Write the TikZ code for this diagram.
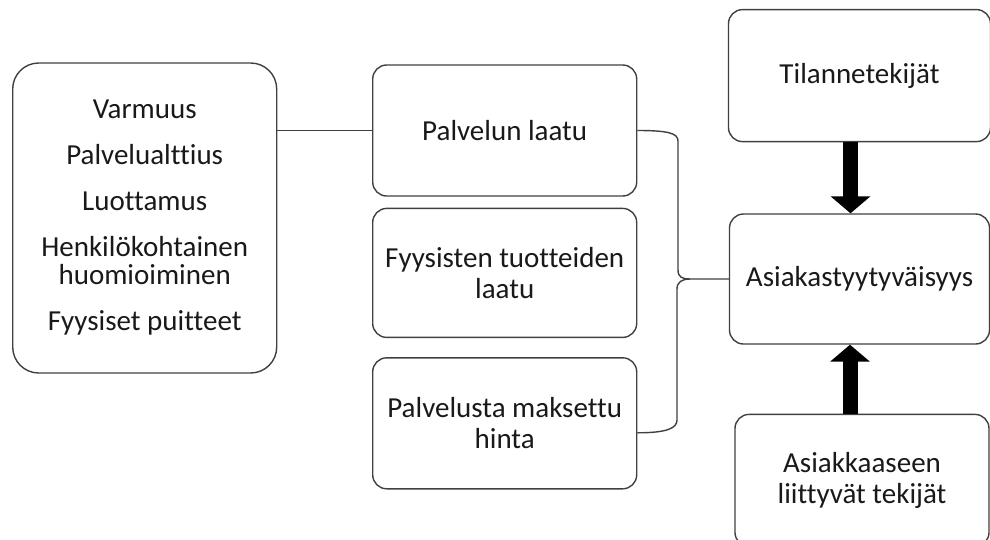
\documentclass[tikz,border=0pt]{standalone}
\usepackage{fontspec}
\setmainfont[Ligatures=NoCommon]{Carlito}
\usetikzlibrary{positioning,arrows.meta}

\tikzset{
  box/.style={draw=black!75, line width=1.4pt, rounded corners=14pt, align=center,
    inner sep=0pt, font=\fontsize{29}{31}\selectfont, text=black!90},
  midbox/.style={box, minimum width=264pt, minimum height=131pt},
  rightbox/.style={box, minimum width=260pt, minimum height=130pt},
  link/.style={draw=black!75, line width=1.4pt},
  bigarrow/.style={line width=15pt, -{Triangle[width=39pt,length=17pt]}},
}

\begin{document}
\begin{tikzpicture}[x=1pt,y=1pt]
    \useasboundingbox (0,0) rectangle (990,-539);

    % middle column
    \node[midbox] (quality) at (504.7,-130.5) {Palvelun laatu};
    \node[midbox, minimum height=129pt] (goods) [below=11pt of quality] {Fyysisten tuotteiden\\laatu};
    \node[midbox] (price) [below=19pt of goods] {Palvelusta maksettu\\hinta};

    % left box
    \node[box, rounded corners=26pt, minimum width=264pt, minimum height=310pt] (dimensions) at (144.7,-218)
      {Varmuus\\[15pt] Palvelualttius\\[15pt] Luottamus\\[15pt] Henkilökohtainen\\[-3pt] huomioiminen\\[15pt] Fyysiset puitteet};

    % right column
    \node[rightbox] (satisfaction) at (859.5,-279) {Asiakastyytyväisyys};
    \node[rightbox, minimum width=262pt, minimum height=132pt] (situation) [above=71pt of satisfaction] {Tilannetekijät};
    \node[rightbox, minimum width=254pt, minimum height=132pt] (customer) [below=69pt of satisfaction, xshift=2.5pt] {Asiakkaaseen\\liittyvät tekijät};

    % brace points
    \coordinate (bracetop) at (678,-141);
    \coordinate (braceup) at (678,-270);
    \coordinate (tip) at (690,-279);
    \coordinate (bracelow) at (677,-289);
    \coordinate (bracebot) at (677,-420);
    \coordinate (braceend) at ([yshift=-9.5pt]price.east);

    \draw[link] (quality.west) -- (quality.west -| dimensions.east);

    \draw[link] (quality.east) .. controls +(30,0) and +(0,8) .. (bracetop)
      -- (braceup) .. controls +(0,-7) and +(-8,0) .. (tip) -- (satisfaction.west);
    \draw[link] (tip) .. controls +(-8,0) and +(0,7) .. (bracelow)
      -- (bracebot) .. controls +(0,-8) and +(30,0) .. (braceend);

    \draw[bigarrow] ([xshift=-9pt]situation.south) -- ([xshift=-9pt]situation.south |- satisfaction.north);
    \draw[bigarrow] ([xshift=-12pt]customer.north) -- ([xshift=-12pt]customer.north |- satisfaction.south);
\end{tikzpicture}
\end{document}
